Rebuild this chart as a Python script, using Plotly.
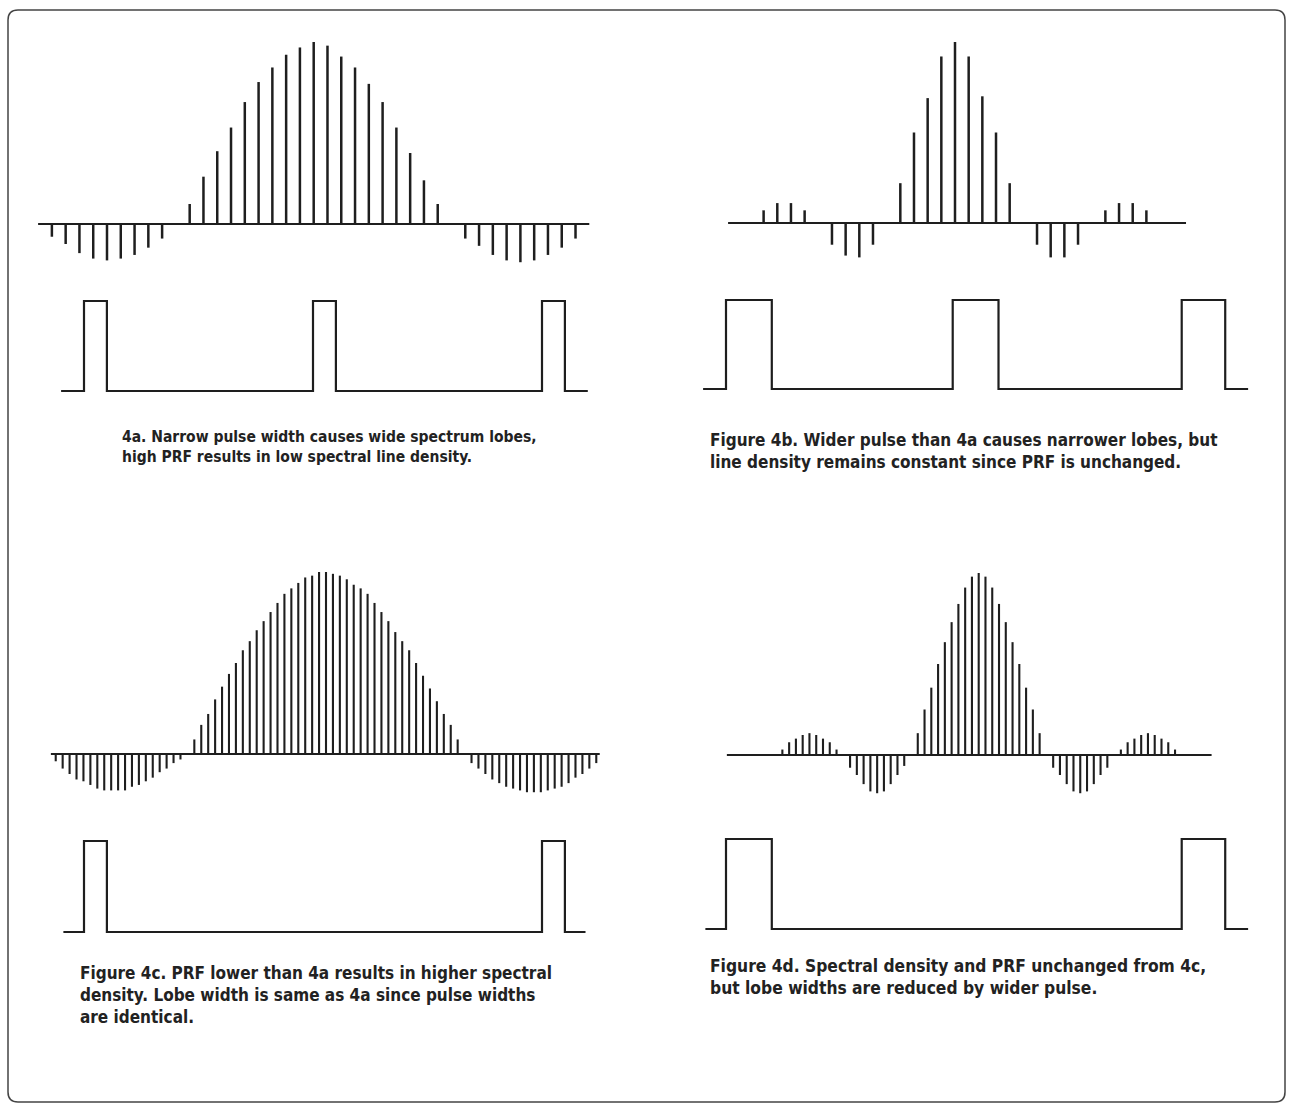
import plotly.graph_objects as go

W, H = 1293, 1110
INK = '#1e1e1e'

# ---------------- data ----------------
# spectral lines: amplitude in % of the main-lobe peak, one value per
# harmonic (0 = spectral null, no line drawn)
a_harm = list(range(-19, 20))
a_amp = [-7, -11, -16, -19, -20, -19, -17, -13, -8,
         0,
         11, 26, 40, 53, 67, 78, 86, 93, 97, 100, 98, 92, 86, 77, 67, 53, 39, 24, 11,
         0,
         -8, -12, -17, -20, -21, -20, -17, -13, -8]
a_base = [-20.0, 20.0]

b_harm = list(range(-14, 15))
b_amp = [7, 11, 11, 7,
         0,
         -12, -18, -19, -12,
         0,
         22, 50, 69, 92, 100, 92, 70, 50, 22,
         0,
         -12, -19, -19, -12,
         0,
         7, 11, 11, 7]
b_base = [-16.6, 16.9]

c_harm = list(range(-39, 40))
c_amp = [-4, -8, -11, -14, -15, -17, -19, -20, -20, -20, -20, -18, -17, -15, -13, -10, -8, -5, -3,
         0,
         8, 16, 22, 30, 37, 44, 50, 57, 62, 68, 73, 78, 83, 88, 91, 94, 97, 98, 100,
         100, 99, 98, 96, 93, 91, 88, 83, 78, 73, 67, 62, 57, 50, 43, 36, 29, 22, 16, 8,
         0,
         -5, -8, -11, -14, -16, -18, -19, -20, -21, -21, -21, -20, -19, -18, -16, -13, -11, -8, -5]
c_base = [-39.7, 39.5]

d_harm = list(range(-29, 30))
d_amp = [3, 7, 9, 11, 12, 11, 9, 7, 3,
         0,
         -7, -11, -16, -20, -21, -20, -16, -11, -6,
         0,
         12, 25, 37, 50, 62, 73, 83, 92, 98, 100, 98, 92, 83, 73, 62, 50, 37, 25, 12,
         0,
         -7, -11, -16, -20, -21, -20, -16, -11, -7,
         0,
         3, 7, 9, 11, 12, 11, 9, 7, 3]
d_base = [-37.2, 34.4]

# pulse trains: edge times (pulse-width units of 4a) and levels
a_pulse_t = [-1.0, 0.0, 1.0, 10.0, 11.0, 20.0, 21.0, 22.0]
a_pulse_v = [0, 1, 0, 1, 0, 1, 0, 0]
b_pulse_t = [-1.0, 0.0, 2.0, 9.9, 11.9, 19.9, 21.8, 22.8]
b_pulse_v = [0, 1, 0, 1, 0, 1, 0, 0]
c_pulse_t = [-0.9, 0.0, 1.0, 20.0, 21.0, 21.9]
c_pulse_v = [0, 1, 0, 1, 0, 0]
d_pulse_t = [-0.9, 0.0, 2.0, 19.9, 21.8, 22.8]
d_pulse_v = [0, 1, 0, 1, 0, 0]

captions = [
    '4a. Narrow pulse width causes wide spectrum lobes,<br>'
    'high PRF results in low spectral line density.',
    'Figure 4b. Wider pulse than 4a causes narrower lobes, but<br>'
    'line density remains constant since PRF is unchanged.',
    'Figure 4c. PRF lower than 4a results in higher spectral<br>'
    'density. Lobe width is same as 4a since pulse widths<br>'
    'are identical.',
    'Figure 4d. Spectral density and PRF unchanged from 4c,<br>'
    'but lobe widths are reduced by wider pulse.',
]


def stems(harm, amp):
    xs, ys = [], []
    for k, v in zip(harm, amp):
        if v == 0:
            continue
        xs += [k, k, None]
        ys += [0, v, None]
    return xs, ys


def xrange_for(p0, ppu):
    # value 0 sits at pixel p0, ppu pixels per unit
    return [(0 - p0) / ppu, (W - p0) / ppu]


def yrange_for(p0, ppu):
    return [(p0 - H) / ppu, p0 / ppu]


# axis calibration: (x px of 0, px per unit, y px of 0, px per unit)
panels = [
    # spectra
    dict(harm=a_harm, amp=a_amp, base=a_base, cal=(313.7, 13.78, 224, 1.82), lw=2.5),
    dict(harm=b_harm, amp=b_amp, base=b_base, cal=(955.0, 13.67, 223, 1.81), lw=2.5),
    dict(harm=c_harm, amp=c_amp, base=c_base, cal=(326.0, 6.93, 754, 1.82), lw=2.1),
    dict(harm=d_harm, amp=d_amp, base=d_base, cal=(978.7, 6.77, 755, 1.82), lw=2.1),
]
pulses = [
    dict(t=a_pulse_t, v=a_pulse_v, cal=(84, 22.9, 391, 90)),
    dict(t=b_pulse_t, v=b_pulse_v, cal=(726, 22.9, 389, 89)),
    dict(t=c_pulse_t, v=c_pulse_v, cal=(84, 22.9, 932, 91)),
    dict(t=d_pulse_t, v=d_pulse_v, cal=(726, 22.9, 929, 90)),
]

fig = go.Figure()
layout_axes = {}
n = 0
for p in panels:
    n += 1
    sfx = '' if n == 1 else str(n)
    xs, ys = stems(p['harm'], p['amp'])
    fig.add_trace(go.Scatter(x=xs, y=ys, mode='lines', xaxis='x' + sfx, yaxis='y' + sfx,
                             line=dict(color=INK, width=p['lw']), hoverinfo='skip',
                             showlegend=False))
    fig.add_trace(go.Scatter(x=p['base'], y=[0, 0], mode='lines', xaxis='x' + sfx,
                             yaxis='y' + sfx, line=dict(color=INK, width=2),
                             hoverinfo='skip', showlegend=False))
    x0, sx, y0, sy = p['cal']
    layout_axes['xaxis' + sfx] = dict(domain=[0, 1], range=xrange_for(x0, sx),
                                      anchor='y' + sfx, visible=False)
    layout_axes['yaxis' + sfx] = dict(domain=[0, 1], range=yrange_for(y0, sy),
                                      anchor='x' + sfx, visible=False)

for p in pulses:
    n += 1
    sfx = str(n)
    fig.add_trace(go.Scatter(x=p['t'], y=p['v'], mode='lines', line_shape='hv',
                             xaxis='x' + sfx, yaxis='y' + sfx,
                             line=dict(color=INK, width=2.2), hoverinfo='skip',
                             showlegend=False))
    x0, sx, y0, sy = p['cal']
    layout_axes['xaxis' + sfx] = dict(domain=[0, 1], range=xrange_for(x0, sx),
                                      anchor='y' + sfx, visible=False)
    layout_axes['yaxis' + sfx] = dict(domain=[0, 1], range=yrange_for(y0, sy),
                                      anchor='x' + sfx, visible=False)

fig.update_layout(**layout_axes)

# captions (left x px, top y px, font size)
cap_pos = [(120, 426, 15.5), (708, 428, 17), (78, 961, 17), (708, 954, 17.3)]
for txt, (cx, cy, fs) in zip(captions, cap_pos):
    fig.add_annotation(text='<b>' + txt + '</b>', xref='paper', yref='paper',
                       x=cx / W, y=1 - cy / H, xanchor='left', yanchor='top',
                       align='left', showarrow=False,
                       font=dict(family='Liberation Sans Narrow, DejaVu Sans Condensed, '
                                        'Arial Narrow, sans-serif',
                                 size=fs, color='#222222'))

# rounded frame round the whole page
L, T, R, B, r = 8, 10, 1285, 1102, 10
px = lambda v: v / W
py = lambda v: 1 - v / H
path = (f'M {px(L + r)},{py(T)} L {px(R - r)},{py(T)} Q {px(R)},{py(T)} {px(R)},{py(T + r)} '
        f'L {px(R)},{py(B - r)} Q {px(R)},{py(B)} {px(R - r)},{py(B)} '
        f'L {px(L + r)},{py(B)} Q {px(L)},{py(B)} {px(L)},{py(B - r)} '
        f'L {px(L)},{py(T + r)} Q {px(L)},{py(T)} {px(L + r)},{py(T)} Z')
fig.add_shape(type='path', path=path, xref='paper', yref='paper',
              line=dict(color='#444444', width=1.5), layer='below')

# transparent plot areas so the stacked subplots do not hide each other
fig.update_layout(width=W, height=H, margin=dict(l=0, r=0, t=0, b=0),
                  paper_bgcolor='white', plot_bgcolor='rgba(0,0,0,0)', showlegend=False)

# drop the browser's default 8px page margin so the figure sits at 0,0
fig.write_html('out.html', config={'displayModeBar': False},
               post_script="document.body.style.margin='0';")
